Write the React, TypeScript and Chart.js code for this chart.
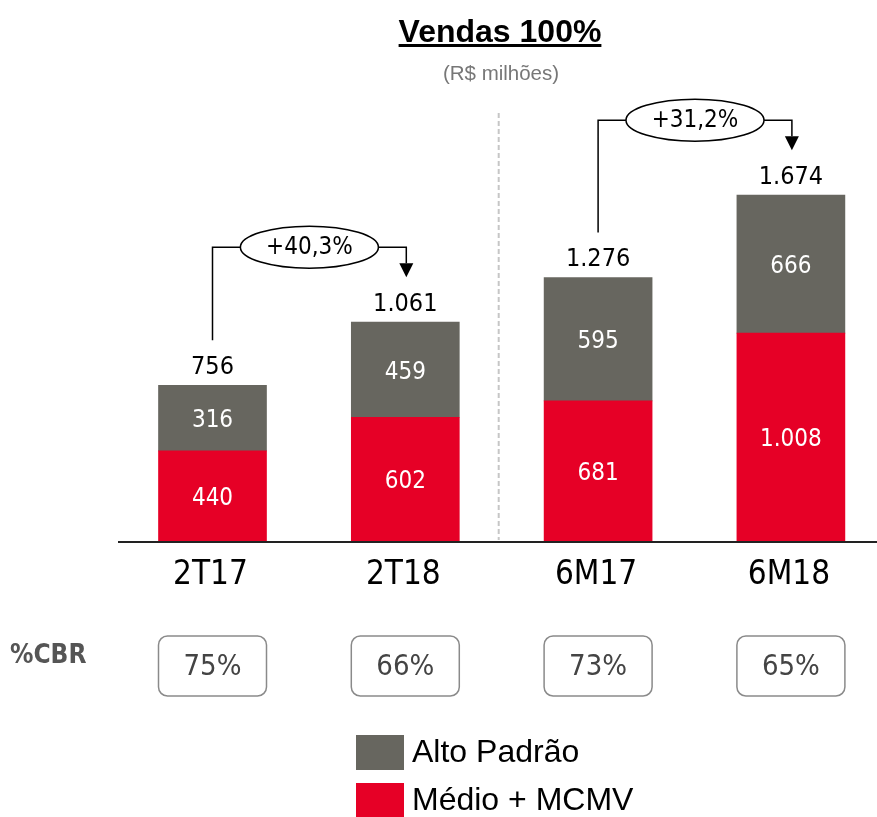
import React, { useEffect, useRef } from "react";
import { Chart, registerables } from "chart.js";

Chart.register(...registerables);

const categories = ["2T17", "2T18", "6M17", "6M18"];
const medioMcmv = [440, 602, 681, 1008];
const altoPadrao = [316, 459, 595, 666];
const cbrShare = ["75%", "66%", "73%", "65%"];
const growthFrom = [0, 2];
const growthTo = [1, 3];
const growthLabels = ["+40,3%", "+31,2%"];
const seriesNames = ["Alto Padrão", "Médio + MCMV"];
const titleText = "Vendas 100%";
const subtitleText = "(R$ milhões)";
const rowLabel = "%CBR";

const GRAY = "#67665f";
const RED = "#e60026";
const COND = '"DejaVu Sans Condensed", "DejaVu Sans", sans-serif';
const ARIAL = '"Liberation Sans", Arial, sans-serif';

const fmt = (v: number) => String(v).replace(/\B(?=(\d{3})+(?!\d))/g, ".");

const overlay = {
  id: "overlay",
  beforeDatasetsDraw(chart: any) {
    const ctx = chart.ctx;
    const xs = chart.scales.x;
    const sx = (xs.getPixelForValue(1) + xs.getPixelForValue(2)) / 2 - 3;
    ctx.save();
    ctx.strokeStyle = "#c6c6c6";
    ctx.lineWidth = 2;
    ctx.setLineDash([5, 3]);
    ctx.beginPath();
    ctx.moveTo(sx, 113);
    ctx.lineTo(sx, 540);
    ctx.stroke();
    ctx.restore();
  },
  afterDatasetsDraw(chart: any) {
    const ctx = chart.ctx;
    const xs = chart.scales.x;
    const ys = chart.scales.y;
    const base = ys.getPixelForValue(0);
    ctx.save();

    // axis line
    ctx.strokeStyle = "#222";
    ctx.lineWidth = 2;
    ctx.beginPath();
    ctx.moveTo(118, base);
    ctx.lineTo(chart.width, base);
    ctx.stroke();

    // title
    ctx.fillStyle = "#000";
    ctx.textAlign = "center";
    ctx.textBaseline = "alphabetic";
    ctx.font = `bold 32px ${ARIAL}`;
    const tx = 500;
    ctx.fillText(titleText, tx, 42);
    const tw = ctx.measureText(titleText).width;
    ctx.fillRect(tx - tw / 2, 44, tw, 3);
    ctx.fillStyle = "#777";
    ctx.font = `20.5px ${ARIAL}`;
    ctx.fillText(subtitleText, tx + 1, 80);

    // labels per category
    categories.forEach((cat, i) => {
      const cx = xs.getPixelForValue(i);
      const total = medioMcmv[i] + altoPadrao[i];
      const yTop = ys.getPixelForValue(total);
      const yMid = ys.getPixelForValue(medioMcmv[i]);
      ctx.textAlign = "center";
      ctx.textBaseline = "middle";
      ctx.font = `25px ${COND}`;
      ctx.fillStyle = "#000";
      ctx.fillText(fmt(total), cx, yTop - 18);
      ctx.font = `24px ${COND}`;
      ctx.fillStyle = "#fff";
      ctx.fillText(fmt(altoPadrao[i]), cx, (yTop + yMid) / 2 + 3);
      ctx.fillText(fmt(medioMcmv[i]), cx, (yMid + base) / 2 + 2);
      // category
      ctx.fillStyle = "#000";
      ctx.font = `33px ${COND}`;
      ctx.fillText(cat, cx - 2, base + 33);
      // CBR box
      const bw = 108, bh = 60, by = 636;
      ctx.beginPath();
      ctx.roundRect(cx - bw / 2, by, bw, bh, 9);
      ctx.fillStyle = "#fff";
      ctx.fill();
      ctx.strokeStyle = "#8a8a8a";
      ctx.lineWidth = 1.5;
      ctx.stroke();
      ctx.fillStyle = "#444";
      ctx.font = `29px ${COND}`;
      ctx.fillText(cbrShare[i], cx, by + bh / 2 + 1);
    });

    // row label
    ctx.textAlign = "left";
    ctx.textBaseline = "middle";
    ctx.fillStyle = "#555";
    ctx.font = `bold 26px ${COND}`;
    ctx.fillText(rowLabel, 10, 656);

    // growth annotations
    growthLabels.forEach((lab, k) => {
      const a = growthFrom[k], b = growthTo[k];
      const xa = xs.getPixelForValue(a);
      const xb = xs.getPixelForValue(b) + 1;
      const ta = medioMcmv[a] + altoPadrao[a];
      const tb = medioMcmv[b] + altoPadrao[b];
      const ya = ys.getPixelForValue(ta) - 45;
      const tip = ys.getPixelForValue(tb) - 45;
      const yl = ys.getPixelForValue(tb) - 75;
      const cx = (xa + xb) / 2;
      const rx = 69, ry = 21;
      ctx.strokeStyle = "#000";
      ctx.lineWidth = 1.5;
      ctx.setLineDash([]);
      ctx.beginPath();
      ctx.moveTo(xa, ya);
      ctx.lineTo(xa, yl);
      ctx.lineTo(cx - rx, yl);
      ctx.moveTo(cx + rx, yl);
      ctx.lineTo(xb, yl);
      ctx.lineTo(xb, tip - 14);
      ctx.stroke();
      ctx.fillStyle = "#000";
      ctx.beginPath();
      ctx.moveTo(xb - 7, tip - 14);
      ctx.lineTo(xb + 7, tip - 14);
      ctx.lineTo(xb, tip);
      ctx.closePath();
      ctx.fill();
      ctx.beginPath();
      ctx.ellipse(cx, yl, rx, ry, 0, 0, Math.PI * 2);
      ctx.fillStyle = "#fff";
      ctx.fill();
      ctx.stroke();
      ctx.fillStyle = "#000";
      ctx.textAlign = "center";
      ctx.textBaseline = "middle";
      ctx.font = `24px ${COND}`;
      ctx.fillText(lab, cx, yl + 1);
    });

    // legend
    const legendColors = [GRAY, RED];
    const legendY = [735, 783];
    seriesNames.forEach((name, k) => {
      ctx.fillStyle = legendColors[k];
      ctx.fillRect(356, legendY[k], 48, 35);
      ctx.fillStyle = "#000";
      ctx.textAlign = "left";
      ctx.textBaseline = "middle";
      ctx.font = `32px ${ARIAL}`;
      ctx.fillText(name, 412, legendY[k] + 18);
    });

    ctx.restore();
  },
};

export default function App() {
  const ref = useRef<HTMLCanvasElement | null>(null);
  useEffect(() => {
    if (!ref.current) return;
    const chart = new Chart(ref.current, {
      type: "bar",
      data: {
        labels: categories,
        datasets: [
          {
            label: seriesNames[1],
            data: medioMcmv,
            backgroundColor: RED,
            borderWidth: 0,
            barThickness: 108,
          },
          {
            label: seriesNames[0],
            data: altoPadrao,
            backgroundColor: GRAY,
            borderWidth: 0,
            barThickness: 108,
          },
        ],
      },
      options: {
        responsive: false,
        animation: false,
        devicePixelRatio: 1,
        layout: { padding: { left: 116.1, right: 2.7, top: 127.6, bottom: 275 } },
        plugins: { legend: { display: false }, tooltip: { enabled: false } },
        scales: {
          x: { stacked: true, display: false, grid: { display: false } },
          y: { stacked: true, display: false, min: 0, max: 2000, grid: { display: false } },
        },
      },
      plugins: [overlay],
    });
    return () => chart.destroy();
  }, []);
  return (
    <div style={{ position: "absolute", left: 0, top: 0, width: 877, height: 817, overflow: "hidden", background: "#fff" }}>
      <canvas ref={ref} width={890} height={817} style={{ display: "block" }} />
    </div>
  );
}
